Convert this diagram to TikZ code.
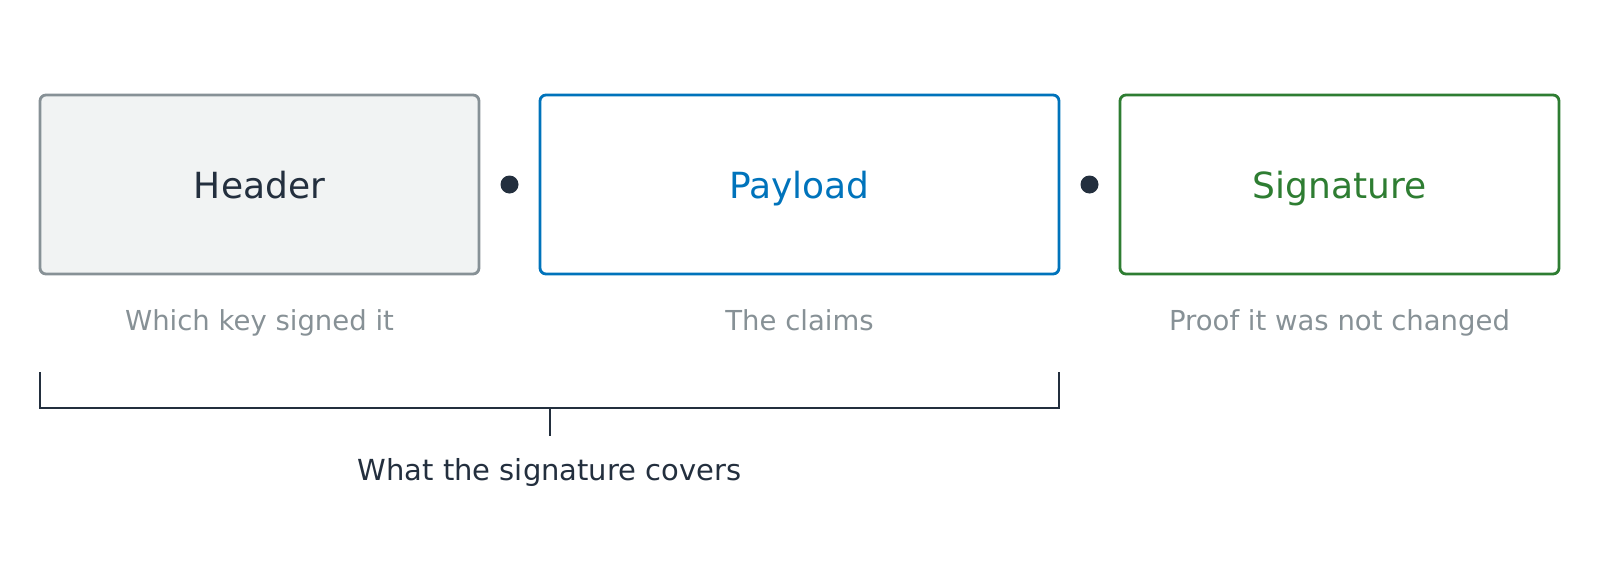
\documentclass[tikz,border=0pt]{standalone}
\usepackage{fontspec}
\setmainfont{DejaVu Sans}
\usepackage{tikz}
\usetikzlibrary{positioning,calc}

\definecolor{ink}{HTML}{232F3E}
\definecolor{greyline}{HTML}{879196}
\definecolor{greyfill}{HTML}{F1F3F3}
\definecolor{blueline}{HTML}{0073BB}
\definecolor{greenline}{HTML}{2E7D32}

\begin{document}
\begin{tikzpicture}[x=1pt,y=-1pt,node distance=21.5pt,
		part/.style={draw,line width=2.8pt,rounded corners=6pt,outer sep=0pt,text depth=0pt,
			minimum height=179pt,font=\fontsize{36}{43}\selectfont},
		sep/.style={circle,fill=ink,inner sep=0pt,minimum size=18pt,outer sep=0pt},
		note/.style={text=greyline,anchor=base,font=\fontsize{27.5}{33}\selectfont},
		bracket/.style={draw=ink,line width=2pt}]
			\useasboundingbox (0,0) rectangle (1600,560);
			\node (header) [part,draw=greyline,fill=greyfill,text=ink,minimum width=439pt]
				at (259.5,184.5) {Header};
			\node (dot1)      [sep,right=of header] {};
			\node (payload)   [part,draw=blueline,text=blueline,minimum width=519pt,right=of dot1] {Payload};
			\node (dot2)      [sep,right=of payload] {};
			\node (signature) [part,draw=greenline,text=greenline,minimum width=439pt,right=of dot2] {Signature};
			
			\node (hnote) [note] at ([yshift=-56pt]header.south)    {Which key signed it};
			\node (pnote) [note] at ([yshift=-56pt]payload.south)   {The claims};
			\node (snote) [note] at ([yshift=-56pt]signature.south) {Proof it was not changed};
			
			\coordinate (bl) at ([yshift=-98pt]header.south west);
			\coordinate (br) at ([yshift=-98pt]payload.south east);
			\coordinate (bm) at ($(bl)!0.5!(br)+(0,36)$);
			\draw[bracket] (bl) -- ++(0,36) -| (br);
			\draw[bracket] (bm) -- ++(0,28) coordinate (bend);
			\node (covers) [text=ink,anchor=base,font=\fontsize{29}{35}\selectfont] at ([yshift=-44pt]bend) {What the signature covers};
		\end{tikzpicture}
\end{document}
